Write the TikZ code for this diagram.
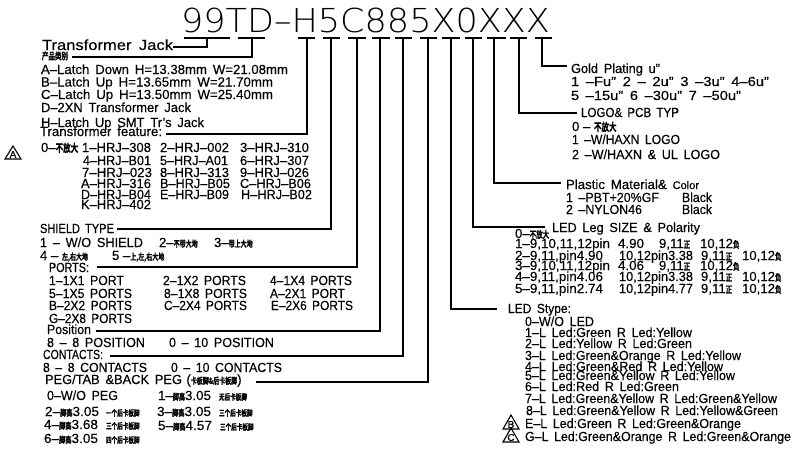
\documentclass[tikz,border=0pt]{standalone}
\usepackage{fontspec}
\setmainfont{Liberation Sans}[FakeBold=0.3]
\newfontfamily\cjk{Noto Sans CJK SC}[BoldFont=* Bold,BoldFeatures={FakeBold=0.8}]
\newfontface\thinface{DejaVu Sans ExtraLight}
\newsavebox{\fwbox}
% set text in a box of a given width (px), CAD-style wide word gaps
\newcommand{\fw}[2]{\sbox{\fwbox}{\spaceskip=0.45em\relax #2}\pgfmathsetmacro{\fwr}{#1/(\wd\fwbox/1pt)}\scalebox{\fwr}[1]{\usebox{\fwbox}}}
\newcommand{\zh}[2][6]{\scalebox{1}[1.45]{\cjk\bfseries\fontsize{#1}{#1}\selectfont #2}}
\tikzset{
  txt/.style={anchor=base west,inner sep=0pt,outer sep=0pt,font=\fontsize{13.2}{14}\selectfont,text=black},
  big/.style={txt,font=\fontsize{14.6}{15}\selectfont},
  titletxt/.style={anchor=base west,inner sep=0pt,outer sep=0pt,font=\thinface\fontsize{33}{34}\selectfont},
  leader/.style={draw=black,line width=1.25pt},
  tribar/.style={draw=black,line width=1.1pt},
  revmark/.style={draw=black,line width=1.1pt,line join=miter},
  revtxt/.style={anchor=center,inner sep=0pt,font=\fontsize{10}{10}\selectfont}
}
\begin{document}
\begin{tikzpicture}[x=1pt,y=-1pt]
\useasboundingbox (0,0) rectangle (800,453);
% title
\node[titletxt] (title) at (181,32) {\fw{369}{99TD–H5C885X0XXX}};
% code bars
\foreach \nm/\a/\b/\c in {p/184/230/207,q/238/265/252,h/298/315/307,s/323/340/331,c/348/366/357,r/372/390/380,k/395/412/403,f/420/437/428,g/442/460/451,l/465/482/473,m/487/506/494,n/510/527/519,o/535/552/542}{
  \coordinate (\nm L) at (\a,38);
  \coordinate (\nm R) at (\b,38);
  \coordinate (\nm M) at (\c,38);
  \draw[tribar] (\nm L)--(\nm R);
}
% left column
\node[big] (tj) at (42,50) {\fw{131}{Transformer Jack}};
\node[txt] (cat) at (42,59.5) {\zh[6.5]{产品类别}};
\node[txt] (a1) at (41,74) {\fw{247}{A–Latch Down H=13.38mm W=21.08mm}};
\node[txt] (a2) at (41,86.5) {\fw{232}{B–Latch Up H=13.65mm W=21.70mm}};
\node[txt] (a3) at (41,99) {\fw{232}{C–Latch Up H=13.50mm W=25.40mm}};
\node[txt] (a4) at (41,112) {\fw{150}{D–2XN Transformer Jack}};
\node[txt] (a5) at (41,127) {\fw{163}{H–Latch Up SMT Tr's Jack}};
\node[txt] (tf) at (40,136) {\fw{122}{Transformer feature:}};
\node[txt] (f0) at (41,152) {0–\zh[7.5]{不放大}};
\foreach \nm/\x/\w/\y/\t in {
 f1/82/69/152/1–HRJ–308,f2/160/69/152/2–HRJ–002,f3/240/69/152/3–HRJ–310,
 f4/83/68/165/4–HRJ–B01,f5/160/68/165/5–HRJ–A01,f6/240/69/165/6–HRJ–307,
 f7/82/70/177/7–HRJ–023,f8/160/69/177/8–HRJ–313,f9/240/69/177/9–HRJ–026,
 fa/81/70/188/A–HRJ–316,fb/160/70/188/B–HRJ–B05,fc/240/71/188/C–HRJ–B06,
 fd/81/70/199/D–HRJ–B04,fe/160/69/199/E–HRJ–B09,fh/241/71/199/H–HRJ–B02,
 fk/81/70/209/K–HRJ–402}{
  \node[txt] (\nm) at (\x,\y) {\fw{\w}{\t}};
}
% shield
\node[txt] (st) at (40,233) {\fw{74}{SHIELD TYPE}};
\node[txt] (s1) at (40,247) {\fw{103}{1 – W/O SHIELD}};
\node[txt] (s2) at (159,247) {2–\zh{不带大地}};
\node[txt] (s3) at (214,247) {3–\zh{带上大地}};
\node[txt] (s4) at (40,260) {4 – \zh{左,右大地}};
\node[txt] (s5) at (112,260) {5 –\zh{上,左,右大地}};
% ports
\node[txt] (pt) at (49,272) {\fw{40}{PORTS:}};
\foreach \nm/\x/\w/\y/\t in {
 p1/49/75/285/1–1X1 PORT,p2/163/83/285/2–1X2 PORTS,p3/270/82/285/4–1X4 PORTS,
 p4/49/83/298/5–1X5 PORTS,p5/164/83/298/8–1X8 PORTS,p6/270/75/298/A–2X1 PORT,
 p7/49/83/310/B–2X2 PORTS,p8/164/83/310/C–2X4 PORTS,p9/271/82/310/E–2X6 PORTS,
 p10/49/83/323/G–2X8 PORTS}{
  \node[txt] (\nm) at (\x,\y) {\fw{\w}{\t}};
}
\node[txt] (pos) at (47,334) {\fw{44}{Position}};
\node[txt] (po1) at (47,347) {\fw{98}{8 – 8 POSITION}};
\node[txt] (po2) at (169,347) {\fw{105}{0 – 10 POSITION}};
\node[txt] (con) at (43,359) {\fw{60}{CONTACTS:}};
\node[txt] (co1) at (43,372) {\fw{104}{8 – 8 CONTACTS}};
\node[txt] (co2) at (171,372) {\fw{111}{0 – 10 CONTACTS}};
\node[txt] (peg) at (45,384) {\fw{137}{PEG/TAB \&BACK PEG}\,\,(\zh{卡板脚\&后卡板脚})};
\node[txt] (g0) at (47,400) {\fw{71}{0–W/O PEG}};
\node[txt] (g1) at (158,400) {\fw{53}{1–\zh{脚高}3.05}};
\node[txt] (g1z) at (219,400) {\zh[5.6]{无后卡板脚}};
\node[txt] (g2) at (45,416) {\fw{54}{2–\zh{脚高}3.05}};
\node[txt] (g2z) at (106,416) {\zh[5.6]{一个后卡板脚}};
\node[txt] (g3) at (157,416) {\fw{54}{3–\zh{脚高}3.05}};
\node[txt] (g3z) at (219,416) {\zh[5.6]{三个后卡板脚}};
\node[txt] (g4) at (44,429) {\fw{54}{4–\zh{脚高}3.68}};
\node[txt] (g4z) at (106,429) {\zh[5.6]{三个后卡板脚}};
\node[txt] (g5) at (158,430) {\fw{54}{5–\zh{脚高}4.57}};
\node[txt] (g5z) at (220,430) {\zh[5.6]{三个后卡板脚}};
\node[txt] (g6) at (44,443) {\fw{54}{6–\zh{脚高}3.05}};
\node[txt] (g6z) at (106,443) {\zh[5.6]{四个后卡板脚}};
% right
\node[txt] (au) at (571,73) {\fw{89}{Gold Plating u"}};
\node[txt] (au1) at (571,86) {\fw{198}{1 –Fu" 2 – 2u" 3 –3u" 4–6u"}};
\node[txt] (au2) at (571,100) {\fw{170}{5 –15u" 6 –30u" 7 –50u"}};
\node[txt] (lg) at (581,117) {\fw{98}{LOGO\& PCB TYP}};
\node[txt] (lg0) at (572,131) {0 – \zh[7.5]{不放大}};
\node[txt] (lg1) at (572,144) {\fw{108}{1 –W/HAXN LOGO}};
\node[txt] (lg2) at (572,159) {\fw{148}{2 –W/HAXN \& UL LOGO}};
\node[txt] (pl) at (566,189) {\fw{133}{Plastic Material\& {\fontsize{11}{11}\selectfont Color}}};
\node[txt] (pl1) at (566,202) {\fw{93}{1 –PBT+20\%GF}};
\node[txt] (pl1b) at (682,202) {\fw{30}{Black}};
\node[txt] (pl2) at (566,214) {\fw{76}{2 –NYLON46}};
\node[txt] (pl2b) at (682,214) {\fw{30}{Black}};
\node[txt] (leg) at (552,232) {\fw{148}{LED Leg SIZE \& Polarity}};
\node[txt] (l0) at (515,238) {0–\zh[6.5]{不放大}};
\foreach \nm/\y/\ta/\wa/\tb/\xb/\wb/\xc/\xd in {
 l1/248/{1–9,10,11,12pin}/95/{4.90}/618/26/659/700,
 l3/270/{3–9,10,11,12pin}/95/{4.06}/618/26/659/700,
 l2/260/{2–9,11,pin4.90}/88/{10,12pin3.38}/619/74/701/742,
 l4/281/{4–9,11,pin4.06}/88/{10,12pin3.38}/619/74/701/742,
 l5/293/{5–9,11,pin2.74}/88/{10,12pin4.77}/619/74/701/742}{
  \node[txt] (\nm a) at (515,\y) {\fw{\wa}{\ta}};
  \node[txt] (\nm b) at (\xb,\y) {\fw{\wb}{\tb}};
  \node[txt] (\nm c) at (\xc,\y) {9,11\zh[6.5]{正}};
  \node[txt] (\nm d) at (\xd,\y) {10,12\zh[6.5]{负}};
}
\node[txt] (ls) at (508,313) {\fw{63}{LED Stype:}};
\foreach \nm/\x/\y/\w/\t in {
 e0/525/326/69/{0–W/O LED},
 e1/525/337/167/{1–L Led:Green R Led:Yellow},
 e2/525/348/167/{2–L Led:Yellow R Led:Green},
 e3/525/360/216/{3–L Led:Green\&Orange R Led:Yellow},
 e4/525/371/198/{4–L Led:Green\&Red R Led:Yellow},
 e5/525/380/210/{5–L Led:Green\&Yellow R Led:Yellow},
 e6/525/391/154/{6–L Led:Red R Led:Green},
 e7/525/403/252/{7–L Led:Green\&Yellow R Led:Green\&Yellow},
 e8/526/415/252/{8–L Led:Green\&Yellow R Led:Yellow\&Green},
 eE/525/428/216/{E–L Led:Green R Led:Green\&Orange},
 eG/525/441/266/{G–L Led:Green\&Orange R Led:Green\&Orange}}{
  \node[txt] (\nm) at (\x,\y) {\fw{\w}{\t}};
}
% revision triangles
\draw[revmark] (5,159)--(21,159)--(13,146)--cycle;
\node[revtxt] (ra) at (13,154.5) {A};
\draw[revmark] (503,429)--(519,429)--(511,415)--cycle;
\node[revtxt] (rb) at (511,424.5) {B};
\draw[revmark] (503,442)--(519,442)--(511,428)--cycle;
\node[revtxt] (rc) at (511,437.5) {C};
% leaders
\draw[leader] (tj.east |- 0,47) -- (pM |- 0,47) -- (pM);
\draw[leader] (72,57) -- (qM |- 0,57) -- (qM);
\draw[leader] (166,134) -- (hM |- 0,134) -- (hM);
\draw[leader] (117,229) -- (sM |- 0,229) -- (sM);
\draw[leader] (97,267) -- (cM |- 0,267) -- (cM);
\draw[leader] (96,331) -- (rM |- 0,331) -- (rM);
\draw[leader] (110,356) -- (kM |- 0,356) -- (kM);
\draw[leader] (256,382) -- (fM |- 0,382) -- (fM);
\draw[leader] (497,309) -- (gM |- 0,309) -- (gM);
\draw[leader] (545,227) -- (lM |- 0,227) -- (lM);
\draw[leader] (561,183) -- (mM |- 0,183) -- (mM);
\draw[leader] (577,113) -- (nM |- 0,113) -- (nM);
\draw[leader] (567,66) -- (oM |- 0,66) -- (oM);
\end{tikzpicture}
\end{document}
